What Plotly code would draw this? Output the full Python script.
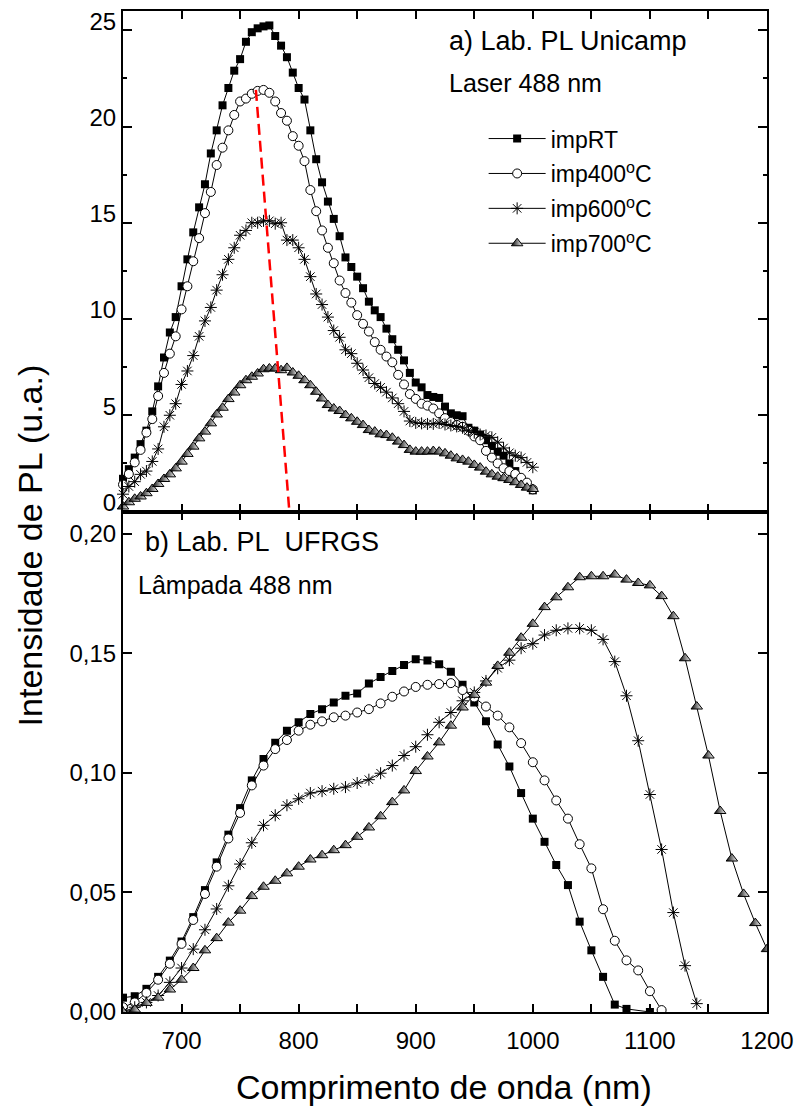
import plotly.graph_objects as go

# ---------------- data (top panel: Unicamp, 5 nm steps) ----------------
wl_top = list(range(650, 1001, 5))

top_RT = [1.7, 2.2, 2.8, 3.5, 4.2, 5.2, 6.5, 8.0, 9.3, 10.1, 11.7, 13.1, 14.5, 15.8, 17.0,
          18.6, 19.8, 21.1, 22.0, 22.9, 23.5, 24.4, 24.9, 25.1, 25.2, 25.25, 24.7, 24.2, 23.6,
          22.8, 22.0, 21.4, 19.8, 18.3, 17.1, 16.1, 15.2, 14.3, 13.2, 12.7, 12.2, 11.6, 10.9,
          10.45, 10.1, 9.5, 8.95, 8.4, 7.85, 7.2, 6.7, 6.45, 6.05, 5.95, 5.9, 5.45, 5.1, 5.0,
          4.95, 4.35, 4.2, 4.0, 3.7, 3.4, 3.1, 2.9, 2.5, 2.1, 1.6, 1.35, 1.1]
top_400 = [1.4, 1.95, 2.55, 3.2, 4.1, 4.8, 6.0, 7.2, 8.2, 9.1, 10.5, 11.7, 13.0, 14.2, 15.5,
           16.6, 18.0, 18.9, 19.8, 20.6, 21.3, 21.45, 21.7, 21.85, 21.9, 21.75, 21.3, 20.7,
           20.3, 19.5, 19.0, 18.2, 16.7, 15.6, 14.6, 13.7, 12.9, 12.0, 11.35, 10.85, 10.2,
           9.75, 9.35, 8.8, 8.4, 8.05, 7.75, 7.1, 6.6, 6.1, 5.85, 5.6, 5.5, 5.35, 5.1, 4.85,
           4.65, 4.5, 4.4, 4.2, 3.9, 3.7, 3.15, 2.8, 2.5, 2.25, 2.1, 1.95, 1.75, 1.5, 1.15]
top_600 = [0.9, 1.3, 1.55, 1.93, 2.1, 2.6, 3.25, 4.4, 5.0, 5.6, 6.6, 7.3, 8.1, 9.1, 9.9,
           10.6, 11.5, 12.3, 13.1, 13.7, 14.35, 14.6, 15.0, 15.0, 15.1, 15.1, 14.95, 15.0,
           14.1, 14.1, 13.7, 13.1, 12.2, 11.3, 10.75, 10.1, 9.4, 9.05, 8.4, 8.2, 7.7, 7.35,
           6.95, 6.65, 6.45, 6.2, 5.9, 5.6, 5.2, 4.7, 4.6, 4.58, 4.55, 4.55, 4.6, 4.52, 4.47,
           4.42, 4.35, 4.2, 4.1, 4.0, 3.95, 3.85, 3.6, 3.3, 3.05, 2.9, 2.8, 2.55, 2.3]
top_700 = [0.26, 0.48, 0.66, 0.78, 0.95, 1.17, 1.43, 1.69, 1.93, 2.24, 2.59, 2.99, 3.37, 3.80,
           4.15, 4.58, 5.04, 5.39, 5.84, 6.18, 6.56, 6.82, 7.0, 7.17, 7.39, 7.43, 7.43, 7.34,
           7.46, 7.22, 7.05, 6.82, 6.56, 6.22, 5.87, 5.53, 5.35, 5.22, 5.01, 4.84, 4.66, 4.49,
           4.23, 4.15, 4.01, 3.97, 3.83, 3.63, 3.45, 3.2, 3.11, 3.11, 3.11, 3.14, 3.11, 3.02,
           2.9, 2.76, 2.68, 2.59, 2.42, 2.28, 2.07, 1.93, 1.81, 1.73, 1.64, 1.52, 1.38, 1.24, 1.17]

# ---------------- data (bottom panel: UFRGS, 10 nm steps) ----------------
wl_RT_b = list(range(650, 1081, 10)) + [1100]
bot_RT = [0.006, 0.0066, 0.0097, 0.0147, 0.0215, 0.0295, 0.0397, 0.051, 0.0626, 0.0742,
          0.0853, 0.0969, 0.1059, 0.1126, 0.1177, 0.1212, 0.1247, 0.1267, 0.1295, 0.1323,
          0.1333, 0.1374, 0.1402, 0.1427, 0.1452, 0.1476, 0.1471, 0.1455, 0.1424, 0.1369,
          0.1295, 0.1216, 0.1119, 0.1027, 0.0916, 0.0809, 0.0712, 0.0615, 0.0531, 0.0378,
          0.0258, 0.0147, 0.0031, 0.0013, 0.0]
wl_400_b = list(range(650, 1111, 10))
bot_400 = [0.002, 0.004, 0.008, 0.0135, 0.0202, 0.0285, 0.0385, 0.0494, 0.0608, 0.0726,
           0.0833, 0.0948, 0.1031, 0.1100, 0.1138, 0.1177, 0.1202, 0.1216, 0.1233, 0.1240,
           0.1253, 0.1267, 0.1291, 0.1319, 0.1341, 0.1360, 0.1369, 0.1372, 0.1376, 0.1347,
           0.1316, 0.1278, 0.1240, 0.1191, 0.1125, 0.1045, 0.0969, 0.0885, 0.0809, 0.0702,
           0.0601, 0.043, 0.0298, 0.0216, 0.0174, 0.0087, 0.0008]
wl_600_b = list(range(650, 1141, 10))
bot_600 = [0.0, 0.002, 0.004, 0.0069, 0.0124, 0.0184, 0.0263, 0.0344, 0.0431, 0.0528,
           0.0619, 0.0708, 0.0781, 0.0823, 0.0865, 0.0892, 0.0916, 0.0924, 0.0934, 0.0941,
           0.0958, 0.0972, 0.0999, 0.1031, 0.1073, 0.1110, 0.1160, 0.1212, 0.1253, 0.1302,
           0.1337, 0.1385, 0.1438, 0.1472, 0.1522, 0.1541, 0.1577, 0.1597, 0.1605, 0.1605,
           0.1597, 0.1559, 0.1466, 0.1323, 0.1135, 0.091, 0.068, 0.0416, 0.0194, 0.0035]
wl_700_b = list(range(650, 1201, 10))
bot_700 = [0.0, 0.001, 0.0038, 0.006, 0.0094, 0.0135, 0.0184, 0.0258, 0.0309, 0.0374,
           0.0424, 0.0485, 0.0524, 0.0549, 0.058, 0.0608, 0.0638, 0.0656, 0.0677, 0.0698,
           0.0733, 0.0772, 0.0819, 0.0878, 0.0927, 0.1008, 0.1069, 0.1128, 0.1198, 0.1274,
           0.1327, 0.1378, 0.1448, 0.1503, 0.1566, 0.1624, 0.1694, 0.1735, 0.1777, 0.1819,
           0.1823, 0.1823, 0.183, 0.1809, 0.1795, 0.1785, 0.174, 0.1656, 0.148, 0.1278,
           0.1073, 0.0841, 0.0642, 0.0494, 0.0372, 0.0263]

# red dashed guide (peak shift) in top panel
guide_x = [763.5, 792.6]
guide_y = [21.9, -0.4]

names = ["impRT", "imp400<sup>o</sup>C", "imp600<sup>o</sup>C", "imp700<sup>o</sup>C"]
x_ticks = [700, 800, 900, 1000, 1100, 1200]
top_y_ticks = [0, 5, 10, 15, 20, 25]
bot_y_ticks = [0.0, 0.05, 0.10, 0.15, 0.20]
bot_y_text = ["0,00", "0,05", "0,10", "0,15", "0,20"]

FONT = "Liberation Sans, Arial, sans-serif"

markers = [
    dict(symbol="square", size=8, color="black", line=dict(width=0)),
    dict(symbol="circle", size=9, color="white", line=dict(color="black", width=1)),
    dict(symbol="asterisk-open", size=10, color="black", line=dict(color="black", width=1)),
    dict(symbol="triangle-up", size=10, color="black",
         gradient=dict(type="horizontal", color="white"),
         line=dict(color="black", width=1)),
]

fig = go.Figure()

tops = [(wl_top, top_RT), (wl_top, top_400), (wl_top, top_600), (wl_top, top_700)]
bots = [(wl_RT_b, bot_RT), (wl_400_b, bot_400), (wl_600_b, bot_600), (wl_700_b, bot_700)]

for i, (xx, yy) in enumerate(tops):
    fig.add_trace(go.Scatter(x=xx, y=yy, mode="lines+markers", name=names[i],
                             line=dict(color="black", width=1), marker=markers[i],
                             xaxis="x", yaxis="y", cliponaxis=False,
                             legendgroup="g%d" % i))

fig.add_trace(go.Scatter(x=guide_x, y=guide_y, mode="lines", showlegend=False,
                         line=dict(color="#ff0000", width=2.5, dash="11px,6px"),
                         xaxis="x", yaxis="y"))

for i, (xx, yy) in enumerate(bots):
    fig.add_trace(go.Scatter(x=xx, y=yy, mode="lines+markers", name=names[i],
                             line=dict(color="black", width=1), marker=markers[i],
                             xaxis="x2", yaxis="y2", showlegend=False))

axis_common = dict(showline=True, linecolor="black", linewidth=2, mirror="ticks",
                   ticks="inside", tickcolor="black", tickwidth=1.5,
                   showgrid=False, zeroline=False,
                   tickfont=dict(family=FONT, size=24, color="black"))

fig.update_layout(
    width=802, height=1108,
    margin=dict(l=123, r=33, t=8, b=96),
    paper_bgcolor="white", plot_bgcolor="white",
    font=dict(family=FONT, color="black"),
    xaxis=dict(axis_common, domain=[0, 1], anchor="y", range=[650, 1200],
               tickvals=x_ticks, showticklabels=False, ticklen=8,
               minor=dict(dtick=50, tick0=650, ticks="inside", ticklen=8, tickwidth=1.5,
                          tickcolor="black", showgrid=False)),
    yaxis=dict(axis_common, domain=[0.5, 1], anchor="x", range=[0, 26],
               tickvals=top_y_ticks, ticklen=9, ticklabelshift=-9,
               minor=dict(dtick=2.5, tick0=0, ticks="inside", ticklen=4, tickwidth=1.5,
                          tickcolor="black", showgrid=False)),
    xaxis2=dict(axis_common, domain=[0, 1], anchor="y2", range=[650, 1200],
                tickvals=x_ticks, ticklen=8, ticklabelstandoff=6,
                minor=dict(dtick=50, tick0=650, ticks="inside", ticklen=8, tickwidth=1.5,
                           tickcolor="black", showgrid=False)),
    yaxis2=dict(axis_common, domain=[0, 0.5], anchor="x2", range=[0, 0.2094],
                tickvals=bot_y_ticks, ticktext=bot_y_text, ticklen=9),
    legend=dict(x=0.56, y=0.894, xanchor="left", yanchor="top",
                font=dict(family=FONT, size=23, color="black"),
                bgcolor="rgba(0,0,0,0)", borderwidth=0,
                tracegroupgap=2, itemwidth=57, traceorder="grouped"),
    showlegend=True,
)

annots = [
    dict(text="a) Lab. PL Unicamp", x=0.503, y=0.9703, size=27),
    dict(text="Laser 488 nm", x=0.503, y=0.9278, size=25),
    dict(text="b) Lab. PL\u00a0\u00a0UFRGS", x=0.031, y=0.4696, size=27),
    dict(text="Lâmpada 488 nm", x=0.020, y=0.4268, size=25),
]
for a in annots:
    fig.add_annotation(text=a["text"], x=a["x"], y=a["y"], xref="paper", yref="paper",
                       xanchor="left", yanchor="middle", showarrow=False,
                       font=dict(family=FONT, size=a["size"], color="black"))

fig.add_annotation(text="Intensidade de PL (u.a.)", x=-0.144, y=0.4664,
                   xref="paper", yref="paper", textangle=-90, showarrow=False,
                   xanchor="center", yanchor="middle",
                   font=dict(family=FONT, size=34, color="black"))
fig.add_annotation(text="Comprimento de onda (nm)", x=0.498, y=-0.0752,
                   xref="paper", yref="paper", showarrow=False,
                   xanchor="center", yanchor="middle",
                   font=dict(family=FONT, size=34, color="black"))

fig.write_html("out.html")
